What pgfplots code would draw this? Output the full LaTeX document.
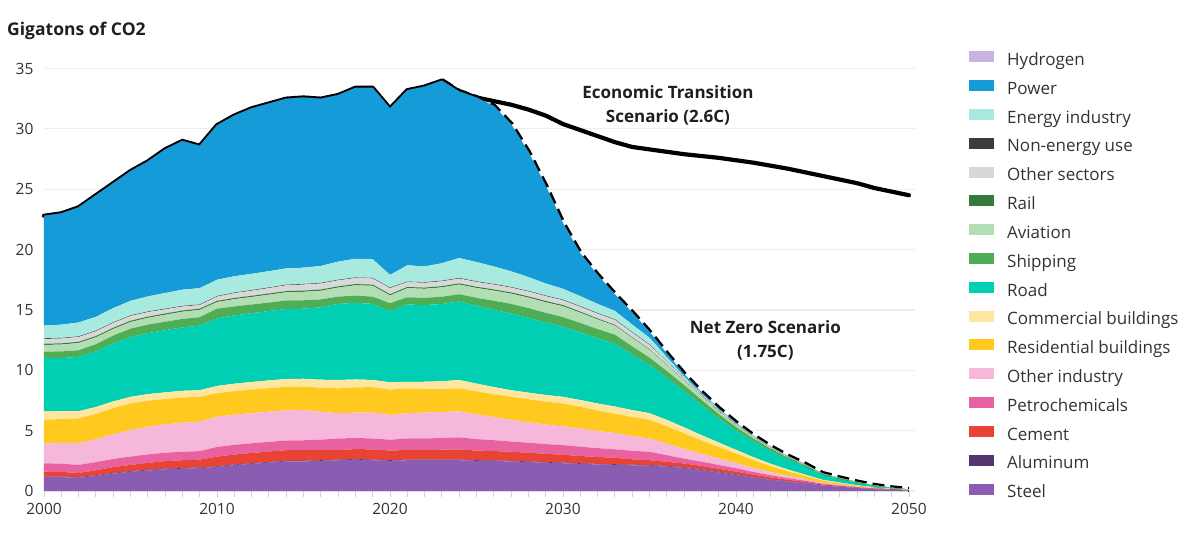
\documentclass[border=0pt]{standalone}
\usepackage{fontspec}
\setmainfont{Open Sans}
\usepackage{pgfplots}
\usepackage{pgfplotstable}
\pgfplotsset{compat=1.18}
\definecolor{cSt}{HTML}{8A5DB3}
\definecolor{cAl}{HTML}{553570}
\definecolor{cCe}{HTML}{E84335}
\definecolor{cPe}{HTML}{E862A2}
\definecolor{cOI}{HTML}{F6B8DA}
\definecolor{cRe}{HTML}{FFC91F}
\definecolor{cCo}{HTML}{FFE6A0}
\definecolor{cRo}{HTML}{00CFB4}
\definecolor{cSh}{HTML}{4FAE55}
\definecolor{cAv}{HTML}{B3DDB2}
\definecolor{cRa}{HTML}{337A3C}
\definecolor{cOS}{HTML}{D8D8D8}
\definecolor{cNE}{HTML}{3C3C3C}
\definecolor{cEI}{HTML}{A8EADF}
\definecolor{cPo}{HTML}{159BD8}
\definecolor{cHy}{HTML}{C9B3E0}
\definecolor{txt}{HTML}{333333}

\pgfplotstableread{
year St Al Ce Pe OI Re Co Ro Sh Av Ra OS NE EI Po Hy
2000 1.15 0.05 0.40 0.70 1.65 1.95 0.70 4.40 0.55 0.55 0.10 0.40 0.05 1.05 9.10 0
2001 1.15 0.05 0.38 0.68 1.70 2.00 0.65 4.40 0.55 0.57 0.10 0.40 0.05 1.10 9.22 0
2002 1.10 0.05 0.35 0.66 1.80 2.05 0.60 4.50 0.55 0.60 0.10 0.40 0.05 1.15 9.54 0
2003 1.25 0.05 0.42 0.67 1.90 2.10 0.57 4.60 0.60 0.57 0.10 0.40 0.05 1.15 10.07 0
2004 1.45 0.05 0.48 0.68 2.05 2.15 0.56 4.80 0.65 0.55 0.10 0.40 0.05 1.18 10.35 0
2005 1.60 0.05 0.51 0.69 2.20 2.20 0.55 4.95 0.70 0.55 0.10 0.40 0.05 1.20 10.75 0
2006 1.70 0.05 0.58 0.70 2.30 2.15 0.55 5.05 0.70 0.56 0.10 0.38 0.05 1.25 11.18 0
2007 1.80 0.05 0.62 0.70 2.35 2.10 0.55 5.15 0.70 0.58 0.10 0.35 0.05 1.30 11.90 0
2008 1.85 0.05 0.65 0.70 2.40 2.10 0.55 5.25 0.70 0.60 0.10 0.33 0.05 1.35 12.32 0
2009 1.90 0.05 0.65 0.70 2.45 2.05 0.55 5.35 0.70 0.60 0.10 0.30 0.05 1.35 11.80 0
2010 2.00 0.05 0.80 0.80 2.50 1.95 0.60 5.60 0.80 0.55 0.10 0.35 0.05 1.35 12.80 0
2011 2.15 0.05 0.82 0.80 2.50 1.95 0.62 5.65 0.75 0.60 0.10 0.40 0.05 1.35 13.31 0
2012 2.25 0.05 0.85 0.80 2.50 1.95 0.63 5.70 0.72 0.62 0.10 0.42 0.05 1.35 13.71 0
2013 2.35 0.05 0.87 0.80 2.50 1.95 0.64 5.75 0.70 0.65 0.10 0.45 0.05 1.35 13.89 0
2014 2.45 0.05 0.88 0.80 2.50 1.95 0.65 5.80 0.70 0.68 0.10 0.48 0.05 1.35 14.06 0
2015 2.45 0.05 0.90 0.80 2.50 1.95 0.65 5.80 0.70 0.70 0.10 0.50 0.05 1.35 14.10 0
2016 2.50 0.05 0.85 0.85 2.30 2.00 0.67 6.00 0.65 0.72 0.10 0.50 0.05 1.40 13.86 0
2017 2.55 0.05 0.80 0.95 2.10 2.05 0.70 6.30 0.60 0.75 0.10 0.50 0.05 1.50 13.80 0
2018 2.60 0.05 0.82 0.92 2.10 2.10 0.65 6.35 0.60 0.85 0.10 0.50 0.05 1.55 14.16 0
2019 2.55 0.05 0.85 0.90 2.15 2.10 0.60 6.30 0.60 0.90 0.10 0.50 0.05 1.55 14.20 0
2020 2.50 0.05 0.80 0.90 2.05 2.10 0.60 5.90 0.65 0.65 0.10 0.50 0.05 1.05 13.80 0
2021 2.55 0.05 0.80 0.95 2.10 2.05 0.55 6.40 0.60 0.75 0.10 0.40 0.05 1.35 14.50 0
2022 2.55 0.05 0.80 0.95 2.15 1.95 0.60 6.35 0.60 0.75 0.10 0.40 0.05 1.30 14.90 0
2023 2.55 0.05 0.82 0.97 2.15 1.90 0.65 6.40 0.60 0.78 0.10 0.40 0.05 1.45 15.13 0
2024 2.55 0.05 0.85 1.00 2.15 1.90 0.70 6.50 0.60 0.80 0.10 0.40 0.05 1.65 13.80 0
2025 2.50 0.05 0.80 0.95 2.05 1.90 0.65 6.45 0.65 0.82 0.10 0.40 0.05 1.60 13.63 0
2026 2.48 0.05 0.78 0.90 1.90 1.90 0.60 6.40 0.75 0.84 0.10 0.40 0.05 1.45 13.30 0
2027 2.45 0.05 0.75 0.85 1.80 1.90 0.55 6.35 0.80 0.85 0.10 0.40 0.05 1.30 12.20 0
2028 2.40 0.05 0.72 0.83 1.70 1.90 0.55 6.20 0.80 0.87 0.10 0.40 0.05 1.15 10.38 0
2029 2.35 0.05 0.68 0.81 1.62 1.90 0.55 6.00 0.80 0.88 0.10 0.40 0.05 1.00 8.11 0
2030 2.30 0.05 0.65 0.80 1.55 1.90 0.55 5.80 0.80 0.90 0.10 0.40 0.05 0.90 5.45 0
2031 2.25 0.05 0.60 0.77 1.50 1.80 0.57 5.60 0.78 0.85 0.09 0.40 0.05 0.83 3.56 0
2032 2.20 0.05 0.57 0.73 1.42 1.70 0.58 5.40 0.76 0.80 0.08 0.40 0.05 0.76 2.40 0
2033 2.17 0.05 0.53 0.70 1.35 1.60 0.60 5.20 0.75 0.75 0.07 0.40 0.05 0.70 1.38 0
2034 2.13 0.05 0.45 0.70 1.22 1.58 0.57 4.60 0.68 0.70 0.06 0.38 0.05 0.62 1.01 0
2035 2.10 0.05 0.40 0.70 1.10 1.55 0.55 4.00 0.60 0.65 0.05 0.35 0.05 0.55 0.50 0
2036 2.02 0.05 0.35 0.55 0.95 1.45 0.52 3.50 0.55 0.50 0.04 0.25 0.03 0.35 0.29 0
2037 1.93 0.05 0.30 0.40 0.80 1.30 0.50 3.00 0.50 0.35 0.03 0.18 0.02 0.15 0.19 0
2038 1.75 0.05 0.28 0.35 0.65 1.10 0.45 2.50 0.43 0.28 0.02 0.12 0.02 0.10 0.10 0
2039 1.55 0.05 0.25 0.31 0.53 0.95 0.38 2.00 0.36 0.22 0.02 0.09 0.01 0.07 0.06 0
2040 1.33 0.05 0.23 0.28 0.42 0.80 0.30 1.60 0.30 0.17 0.01 0.07 0.01 0.05 0.04 0
2041 1.12 0.04 0.20 0.22 0.33 0.65 0.25 1.30 0.24 0.13 0.01 0.05 0 0.04 0.02 0
2042 0.93 0.04 0.16 0.18 0.25 0.50 0.20 1.05 0.18 0.10 0.01 0.04 0 0.03 0.01 0
2043 0.77 0.03 0.13 0.14 0.18 0.38 0.15 0.85 0.13 0.07 0.01 0.03 0 0.02 0.01 0
2044 0.63 0.03 0.10 0.10 0.12 0.28 0.10 0.65 0.10 0.05 0.01 0.03 0 0.02 0.01 0
2045 0.45 0.02 0.07 0.07 0.08 0.17 0.07 0.40 0.06 0.03 0.01 0.02 0 0.01 0 0
2046 0.35 0.02 0.05 0.05 0.06 0.12 0.05 0.30 0.04 0.02 0 0.02 0 0.01 0 0
2047 0.25 0.01 0.04 0.03 0.04 0.08 0.03 0.20 0.03 0.02 0 0.01 0 0.01 0 0
2048 0.16 0.01 0.03 0.02 0.03 0.05 0.02 0.12 0.02 0.01 0 0 0 0 0 0
2049 0.09 0.01 0.02 0.01 0.02 0.03 0.01 0.06 0.01 0.01 0 0 0 0 0 0
2050 0.05 0 0.01 0.01 0.01 0.01 0.01 0.03 0 0 0 0 0 0 0 0
}\sectors

% Economic Transition Scenario (history + projection)
\pgfplotstableread{
year val
2000 22.8
2001 23.0
2002 23.5
2003 24.5
2004 25.5
2005 26.5
2006 27.3
2007 28.3
2008 29.0
2009 28.6
2010 30.3
2011 31.1
2012 31.7
2013 32.1
2014 32.5
2015 32.6
2016 32.5
2017 32.8
2018 33.4
2019 33.4
2020 31.7
2021 33.2
2022 33.5
2023 34.0
2024 33.1
2025 32.6
2026 32.3
2027 32.0
2028 31.6
2029 31.1
2030 30.4
2031 29.9
2032 29.4
2033 28.9
2034 28.5
2035 28.3
2036 28.1
2037 27.9
2038 27.75
2039 27.6
2040 27.4
2041 27.2
2042 26.95
2043 26.7
2044 26.4
2045 26.1
2046 25.8
2047 25.5
2048 25.1
2049 24.8
2050 24.5
}\econ

% Net Zero Scenario
\pgfplotstableread{
year val
2023 34.0
2024 33.1
2025 32.6
2026 31.9
2027 30.4
2028 28.1
2029 25.3
2030 22.2
2031 19.7
2032 17.9
2033 16.3
2034 14.8
2035 13.2
2036 11.4
2037 9.7
2038 8.2
2039 6.85
2040 5.66
2041 4.6
2042 3.68
2043 2.9
2044 2.23
2045 1.46
2046 1.09
2047 0.75
2048 0.47
2049 0.27
2050 0.13
}\netzero

\begin{document}
\begin{tikzpicture}[x=1pt,y=1pt]
\path[use as bounding box] (0,0) rectangle (1199,541);
\node[anchor=west, font=\bfseries\fontsize{17.5}{20}\selectfont, text=black!88, inner sep=0pt] at (7,510) {Gigatons of CO2};
\begin{axis}[
  at={(44pt,50pt)}, anchor=south west,
  scale only axis, width=871pt, height=422.5pt,
  xmin=2000, xmax=2050.35, ymin=0, ymax=35,
  axis line style={draw=none},
  stack plots=y,
  clip=false,
  ytick={0,5,...,35},
  xtick={2000,2010,...,2050},
  minor xtick={2000,2001,...,2050},
  xtick pos=bottom, ytick pos=left,
  tick align=outside,
  ytick style={draw=none},
  xtick style={draw=gray!35, line width=0.8pt},
  every minor tick/.append style={draw=gray!35, line width=0.8pt},
  major tick length=6pt, minor tick length=6pt,
  ymajorgrids,
  grid style={draw=gray!13, line width=1.2pt},
  tick label style={font=\fontsize{15.5}{18}\selectfont, text=txt},
  /pgf/number format/assume math mode=true,
  /pgf/number format/1000 sep={},
  yticklabel style={xshift=-1pt},
  xticklabel style={yshift=-3pt},
  reverse legend,
  legend cell align=left,
  legend image code/.code={\fill[#1] (0pt,-0.5pt) rectangle (25pt,10.5pt);},
  legend style={at={(1.0585,1.046)}, anchor=north west, draw=none, fill=none,
    font=\fontsize{17}{18}\selectfont, text=txt, row sep=11.07pt,
    nodes={inner sep=0pt, text height=11pt, text depth=3.5pt},
    /tikz/every odd column/.append style={column sep=13pt}},
]
\addplot[fill=cSt, draw=none] table[x=year,y=St]{\sectors} \closedcycle; \addlegendentry{Steel}
\addplot[fill=cAl, draw=none] table[x=year,y=Al]{\sectors} \closedcycle; \addlegendentry{Aluminum}
\addplot[fill=cCe, draw=none] table[x=year,y=Ce]{\sectors} \closedcycle; \addlegendentry{Cement}
\addplot[fill=cPe, draw=none] table[x=year,y=Pe]{\sectors} \closedcycle; \addlegendentry{Petrochemicals}
\addplot[fill=cOI, draw=none] table[x=year,y=OI]{\sectors} \closedcycle; \addlegendentry{Other industry}
\addplot[fill=cRe, draw=none] table[x=year,y=Re]{\sectors} \closedcycle; \addlegendentry{Residential buildings}
\addplot[fill=cCo, draw=none] table[x=year,y=Co]{\sectors} \closedcycle; \addlegendentry{Commercial buildings}
\addplot[fill=cRo, draw=none] table[x=year,y=Ro]{\sectors} \closedcycle; \addlegendentry{Road}
\addplot[fill=cSh, draw=none] table[x=year,y=Sh]{\sectors} \closedcycle; \addlegendentry{Shipping}
\addplot[fill=cAv, draw=none] table[x=year,y=Av]{\sectors} \closedcycle; \addlegendentry{Aviation}
\addplot[fill=cRa, draw=none] table[x=year,y=Ra]{\sectors} \closedcycle; \addlegendentry{Rail}
\addplot[fill=cOS, draw=none] table[x=year,y=OS]{\sectors} \closedcycle; \addlegendentry{Other sectors}
\addplot[fill=cNE, draw=none] table[x=year,y=NE]{\sectors} \closedcycle; \addlegendentry{Non-energy use}
\addplot[fill=cEI, draw=none] table[x=year,y=EI]{\sectors} \closedcycle; \addlegendentry{Energy industry}
\addplot[fill=cPo, draw=none] table[x=year,y=Po]{\sectors} \closedcycle; \addlegendentry{Power}
\addplot[fill=cHy, draw=none] table[x=year,y=Hy]{\sectors} \closedcycle; \addlegendentry{Hydrogen}

\addplot[stack plots=false, forget plot, draw=black, line width=5pt, dash pattern=on 12pt off 6pt, line cap=butt, line join=round] table[x=year,y=val]{\netzero};
\addplot[stack plots=false, forget plot, draw=black, line width=4.2pt, line join=round, line cap=round] table[x=year,y=val]{\econ};

\node[align=center, font=\bfseries\fontsize{17}{24}\selectfont, text=black!88] at (axis cs:2036.07,31.95) {Economic Transition\\Scenario (2.6C)};
\node[align=center, font=\bfseries\fontsize{17}{24}\selectfont, text=black!88] at (axis cs:2041.7,12.5) {Net Zero Scenario\\(1.75C)};
\end{axis}
\end{tikzpicture}
\end{document}
